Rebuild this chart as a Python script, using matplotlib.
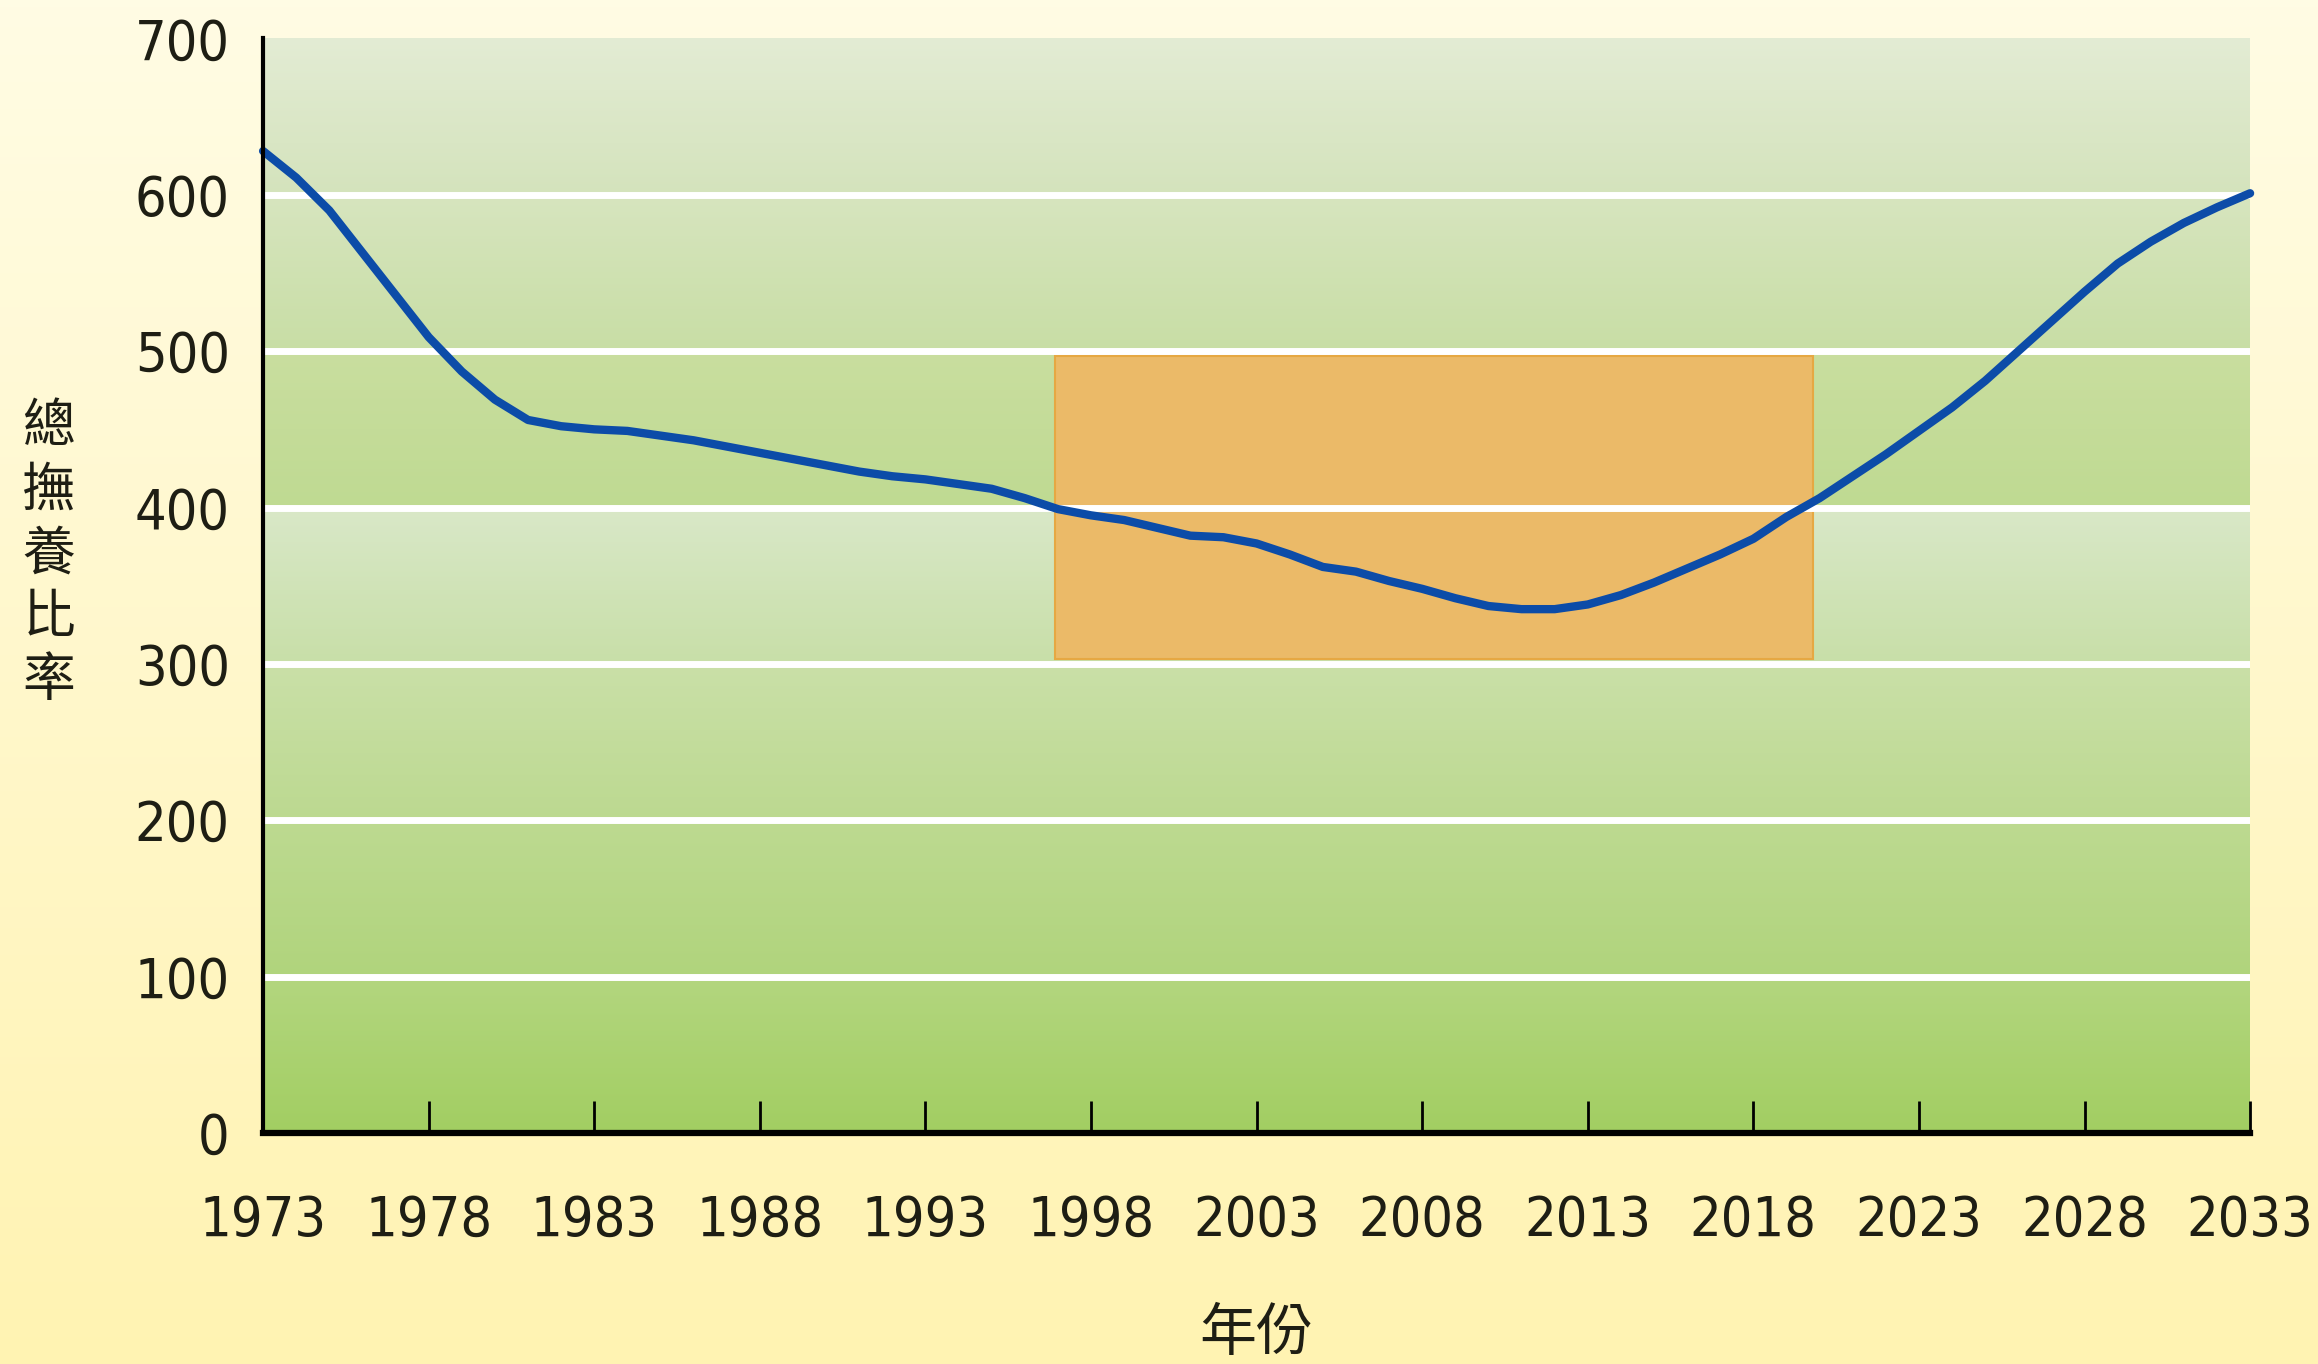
import numpy as np
import matplotlib
matplotlib.use("Agg")
import matplotlib.pyplot as plt
from matplotlib.colors import to_rgb
from matplotlib.patches import Rectangle

# total dependency ratio per year
years = list(range(1973, 2034))
ratio = [628, 611, 590, 563, 536, 509, 487, 469, 456, 452,
         450, 449, 446, 443, 439, 435, 431, 427, 423, 420,
         418, 415, 412, 406, 399, 395, 392, 387, 382, 381,
         377, 370, 362, 359, 353, 348, 342, 337, 335, 335,
         338, 344, 352, 361, 370, 380, 394, 406, 420, 434,
         449, 464, 481, 500, 519, 538, 556, 570, 582, 592,
         601]

x_ticks = list(range(1973, 2034, 5))
y_ticks = list(range(0, 701, 100))
grid_levels = [100, 200, 300, 400, 500, 600]

# highlighted window (years, ratio)
box_years = (1996.9, 2019.8)
box_range = (303, 497)

y_label = "總撫養比率"
x_label = "年份"

# (bottom colour, top colour) of each 100-wide band, from 0-100 upwards
band_colors = [("#A2CE62", "#B3D67F"),
               ("#B0D47C", "#BDDA91"),
               ("#BCD990", "#CAE0A8"),
               ("#C8DFA8", "#D9E8C8"),
               ("#BFDA92", "#C9DE9F"),
               ("#C8DEA5", "#D7E5BF"),
               ("#D4E3BC", "#E3ECD4")]

num_font = ["DejaVu Sans"]
cjk_font = ["Noto Sans CJK TC", "DejaVu Sans"]


def vgrad(top, bottom, n=200):
    t = np.linspace(0, 1, n)[:, None]
    c = (1 - t) * np.array(to_rgb(top)) + t * np.array(to_rgb(bottom))
    return c[:, None, :]


fig = plt.figure(figsize=(23.18, 13.64), dpi=100)

# pale yellow page background
bg = fig.add_axes([0, 0, 1, 1], zorder=-10)
bg.imshow(vgrad("#FFFCE4", "#FFF3B2"), aspect="auto", extent=[0, 1, 0, 1])
bg.axis("off")

ax = fig.add_axes([0.1135, 0.1694, 0.8572, 0.8024])
ax.patch.set_alpha(0)

for i, (c_bot, c_top) in enumerate(band_colors):
    lo, hi = y_ticks[i], y_ticks[i + 1]
    ax.imshow(vgrad(c_top, c_bot), aspect="auto",
              extent=[years[0], years[-1], lo, hi], zorder=0)

ax.add_patch(Rectangle((box_years[0], box_range[0]),
                       box_years[1] - box_years[0], box_range[1] - box_range[0],
                       facecolor="#EBBA68", edgecolor="#E6A843", lw=1.5, zorder=1))

for v in grid_levels:
    ax.axhline(v, color="white", lw=5, zorder=2)

ax.plot(years, ratio, color="#0C4CA8", lw=6, zorder=3,
        solid_capstyle="round", solid_joinstyle="round", clip_on=False)

ax.set_xlim(years[0], years[-1])
ax.set_ylim(0, 700)
ax.set_xticks(x_ticks)
ax.set_yticks(y_ticks)
ax.tick_params(axis="x", direction="in", length=23, width=2, pad=44,
               labelsize=40, colors="black", labelcolor="#1E1E14")
ax.tick_params(axis="y", length=0, pad=24, labelsize=40, labelcolor="#1E1E14")
for lab in ax.get_xticklabels() + ax.get_yticklabels():
    lab.set_fontfamily(num_font)
    lab.set_fontstretch("condensed")

for s in ["top", "right"]:
    ax.spines[s].set_visible(False)
ax.spines["left"].set_linewidth(3)
ax.spines["bottom"].set_linewidth(4.5)
ax.spines["left"].set_zorder(4)
ax.spines["bottom"].set_zorder(4)

fig.text(0.021, 0.594, "\n".join(y_label), ha="center", va="center",
         fontsize=38, linespacing=1.2, family=cjk_font, weight="medium",
         color="#1E1E14")
fig.text(0.542, 0.022, x_label, ha="center", va="center",
         fontsize=41, family=cjk_font, weight="medium", color="#1E1E14")

fig.savefig("out.png", dpi=100)
